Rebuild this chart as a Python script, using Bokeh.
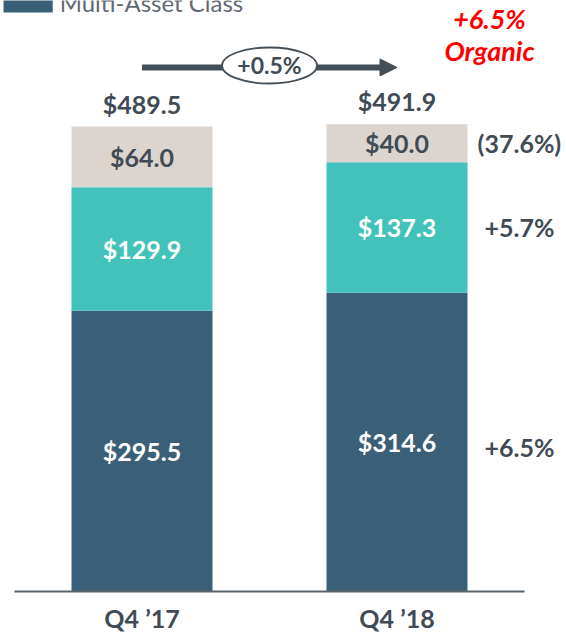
from bokeh.plotting import figure
from bokeh.models import ColumnDataSource, Range1d, Arrow, NormalHead
from bokeh.core.properties import value
from bokeh.embed import file_html
from bokeh.resources import INLINE

# ---------------- data ----------------
categories = ["Q4 \u201917", "Q4 \u201918"]
multi_asset = [295.5, 314.6]
series_two = [129.9, 137.3]
series_three = [64.0, 40.0]
totals = [489.5, 491.9]
total_change = "+0.5%"
segment_changes = ["+6.5%", "+5.7%", "(37.6%)"]
organic_change = "+6.5%"
organic_label = "Organic"
legend_label = "Multi-Asset Class"

# ---------------- styles ----------------
C_DARK = "#3A6079"
C_TEAL = "#42C2BB"
C_BEIGE = "#DCD5CF"
C_TEXT = "#414B55"
C_ARROW = "#454F57"
FONT = value("Lato")

xpos = list(range(len(categories)))
bar_w = 0.553

p = figure(width=566, height=632, output_backend="svg", toolbar_location=None,
           x_axis_location=None, y_axis_location=None,
           x_range=Range1d(-0.5549, 1.6647), y_range=Range1d(-43.16, 622.1),
           min_border=0, outline_line_color=None)
p.xgrid.visible = False
p.ygrid.visible = False

src = ColumnDataSource(dict(x=xpos, a=multi_asset, b=series_two, c=series_three))
p.vbar_stack(["a", "b", "c"], x="x", width=bar_w, color=[C_DARK, C_TEAL, C_BEIGE],
             line_color=None, source=src)

# baseline
p.segment(x0=[xpos[0] - 0.5], y0=[0], x1=[xpos[-1] + 0.5], y1=[0],
          line_color="#5A646C", line_width=2)

# segment labels
lx, ly, lt, lc = [], [], [], []
for i in xpos:
    bottoms = [0, multi_asset[i], multi_asset[i] + series_two[i]]
    vals = [multi_asset[i], series_two[i], series_three[i]]
    cols = ["white", "white", C_TEXT]
    for b, v, c in zip(bottoms, vals, cols):
        lx.append(i); ly.append(b + v / 2); lt.append(f"${v:.1f}"); lc.append(c)
p.text(x=lx, y=ly, text=lt, text_color=lc, text_font=FONT, text_font_style="bold",
       text_font_size="25px", text_align="center", text_baseline="middle")

# totals
p.text(x=xpos, y=[t + 24 for t in totals], text=[f"${t:.1f}" for t in totals],
       text_color=C_TEXT, text_font=FONT, text_font_style="bold",
       text_font_size="25px", text_align="center", text_baseline="middle")

# category labels
p.text(x=xpos, y=[-28.4] * len(xpos), text=categories, text_color=C_TEXT,
       text_font=FONT, text_font_style="bold", text_font_size="25px",
       text_align="center", text_baseline="middle")

# change labels right of 2nd bar
i = xpos[-1]
mids = [multi_asset[i] / 2, multi_asset[i] + series_two[i] / 2,
        multi_asset[i] + series_two[i] + series_three[i] / 2]
mids[0] -= 5
p.text(x=[i + 0.48] * 3, y=mids, text=segment_changes, text_color=C_TEXT,
       text_font=FONT, text_font_style="bold", text_font_size="25px",
       text_align="center", text_baseline="middle")

# growth arrow
arrow_y = 551.6
p.add_layout(Arrow(end=NormalHead(size=17, fill_color=C_ARROW, line_color=C_ARROW),
                   x_start=xpos[0], y_start=arrow_y, x_end=xpos[-1], y_end=arrow_y,
                   line_color=C_ARROW, line_width=6, level="underlay"))
p.ellipse(x=[0.5], y=[553.7], width=0.3725, height=37.9, fill_color="white",
          line_color=C_ARROW, line_width=1.8)
p.text(x=[0.5], y=[553.7], text=[total_change], text_color=C_TEXT, text_font=FONT,
       text_font_style="bold", text_font_size="23px", text_align="center",
       text_baseline="middle")

# organic
p.text(x=[1.363, 1.363], y=[603.0, 569.5], text=[organic_change, organic_label],
       text_color="#FF0000", text_font=FONT, text_font_style="bold italic",
       text_font_size="27px", text_align="center", text_baseline="middle")

# legend (cut off at top, as in the source)
p.quad(left=[-0.543], right=[-0.35], bottom=[609.5], top=[640], fill_color=C_DARK,
       line_color=None)
p.text(x=[-0.323], y=[620.5], text=[legend_label], text_color="#5F6A73",
       text_font=FONT, text_font_size="24px", text_align="left",
       text_baseline="alphabetic")

open("out.html", "w").write(file_html(p, INLINE))
